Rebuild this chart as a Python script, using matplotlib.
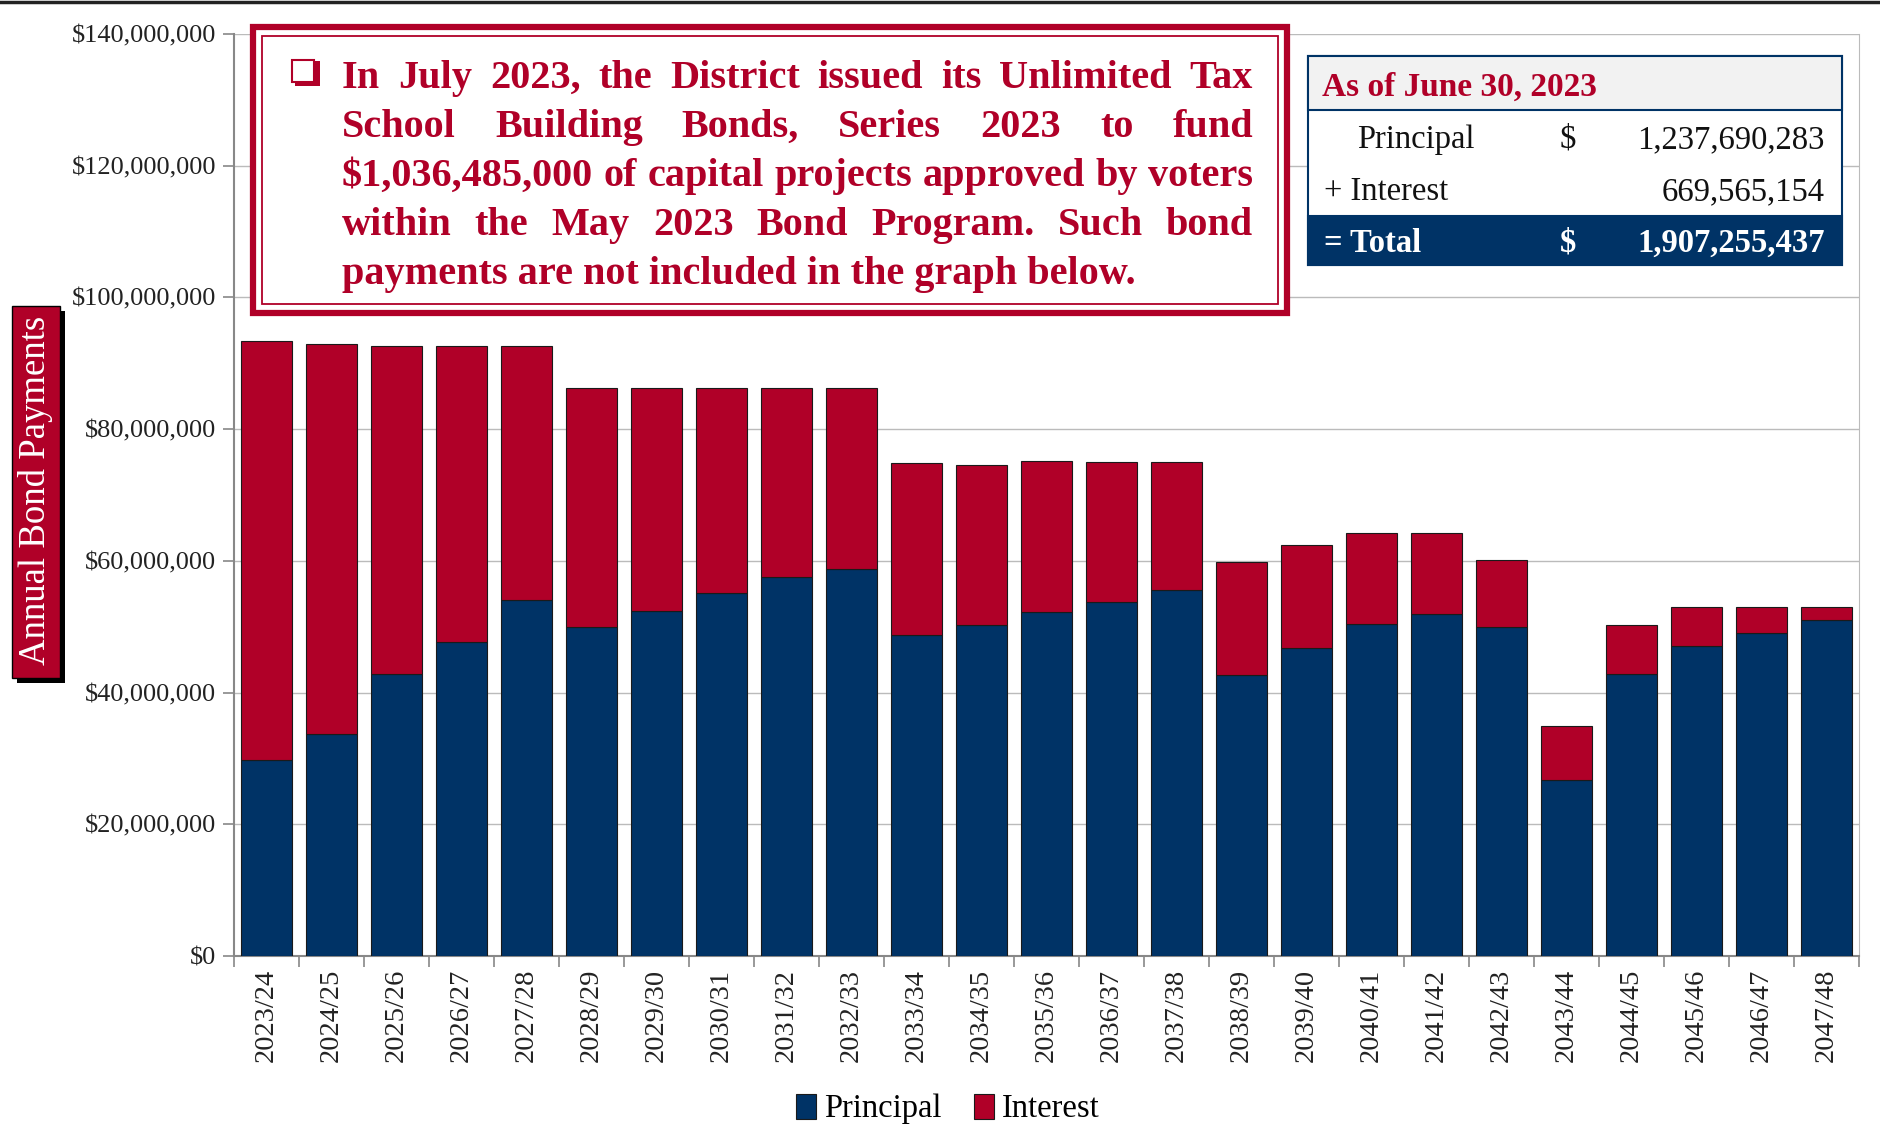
import matplotlib.pyplot as plt
from matplotlib.patches import Rectangle
from matplotlib.lines import Line2D
from matplotlib.ticker import FuncFormatter
import numpy as np

plt.rcParams['font.family'] = ['Liberation Serif', 'DejaVu Serif']

# fiscal years and annual payments (millions of dollars)
years = ['2023/24', '2024/25', '2025/26', '2026/27', '2027/28', '2028/29', '2029/30',
         '2030/31', '2031/32', '2032/33', '2033/34', '2034/35', '2035/36', '2036/37',
         '2037/38', '2038/39', '2039/40', '2040/41', '2041/42', '2042/43', '2043/44',
         '2044/45', '2045/46', '2046/47', '2047/48']
principal = [29.7, 33.7, 42.8, 47.7, 54.0, 50.0, 52.4, 55.1, 57.5, 58.8, 48.8, 50.2, 52.2,
             53.7, 55.5, 42.6, 46.8, 50.4, 52.0, 49.9, 26.8, 42.8, 47.1, 49.1, 51.0]
interest = [63.7, 59.3, 49.8, 44.9, 38.6, 36.3, 33.9, 31.2, 28.8, 27.5, 26.0, 24.4, 23.0,
            21.3, 19.5, 17.3, 15.6, 13.8, 12.2, 10.2, 8.1, 7.4, 5.9, 3.9, 2.0]

note_lines = ['In July 2023, the District issued its Unlimited Tax',
              'School Building Bonds, Series 2023 to fund',
              '$1,036,485,000 of capital projects approved by voters',
              'within the May 2023 Bond Program. Such bond',
              'payments are not included in the graph below.']

summary_title = 'As of June 30, 2023'
summary_rows = [('Principal', '$', '1,237,690,283'),
                ('+ Interest', '', '669,565,154'),
                ('= Total', '$', '1,907,255,437')]

NAVY = '#003366'
RED = '#B00028'

W, H = 1881, 1144
fig = plt.figure(figsize=(W / 100, H / 100), dpi=100)


def fx(px):
    return px / W


def fy(py):
    return 1 - py / H


ax = fig.add_axes([fx(234), fy(956), (1859 - 234) / W, (956 - 34) / H])

x = np.arange(len(years))
ax.bar(x, principal, 0.78, color=NAVY, edgecolor='#1a1a1a', linewidth=0.8,
       label='Principal', zorder=3)
ax.bar(x, interest, 0.78, bottom=principal, color=RED, edgecolor='#1a1a1a',
       linewidth=0.8, label='Interest', zorder=3)

ax.set_xlim(-0.5, len(years) - 0.5)
ax.set_ylim(0, 140)
ax.set_yticks(np.arange(0, 141, 20))
ax.yaxis.set_major_formatter(FuncFormatter(lambda v, p: '${:,.0f}'.format(v * 1e6)))
ax.set_xticks(x)
ax.set_xticklabels(years, rotation=90, fontsize=20.5, color='#222222')
ax.set_xticks(np.arange(-0.5, len(years)), minor=True)
ax.tick_params(axis='x', which='major', length=0, pad=9)
ax.tick_params(axis='x', which='minor', length=8, color='#888888', width=1.2)
ax.tick_params(axis='y', length=8, color='#888888', width=1.2, labelsize=19,
               labelcolor='#222222', pad=5)
ax.grid(axis='y', color='#BBBBBB', linewidth=1)
ax.set_axisbelow(True)
ax.spines['top'].set_visible(False)
ax.spines['left'].set_color('#888888')
ax.spines['left'].set_linewidth(1.5)
ax.spines['bottom'].set_color('#888888')
ax.spines['bottom'].set_linewidth(1.5)
ax.spines['right'].set_color('#BBBBBB')

fig.legend(loc='center', bbox_to_anchor=(fx(948), fy(1109)), ncol=2, frameon=False,
           fontsize=23.5, handlelength=0.6, handleheight=0.8, handletextpad=0.25,
           columnspacing=1.0)

# top rule
fig.add_artist(Line2D([0, 1], [fy(2), fy(2)], transform=fig.transFigure,
                      color='#222222', linewidth=2.5))

# y label box
fig.add_artist(Rectangle((fx(17), fy(683)), fx(48), (683 - 311) / H,
                         transform=fig.transFigure, facecolor='black', zorder=5))
fig.add_artist(Rectangle((fx(12), fy(678)), fx(48), (678 - 306) / H,
                         transform=fig.transFigure, facecolor=RED, edgecolor='black',
                         linewidth=1, zorder=6))
fig.text(fx(36), fy(490), 'Annual Bond Payments', rotation=90, color='white',
         fontsize=26.5, ha='center', va='center', zorder=7)

# note box
fig.add_artist(Rectangle((fx(253), fy(313)), fx(1287 - 253), (313 - 27) / H,
                         transform=fig.transFigure, facecolor='white', edgecolor=RED,
                         linewidth=4.5, zorder=5))
fig.add_artist(Rectangle((fx(262), fy(304)), fx(1278 - 262), (304 - 36) / H,
                         transform=fig.transFigure, facecolor='none', edgecolor=RED,
                         linewidth=1.3, zorder=6))
# check box bullet
fig.add_artist(Rectangle((fx(295), fy(86)), fx(25), 25 / H, transform=fig.transFigure,
                         facecolor=RED, zorder=6))
fig.add_artist(Rectangle((fx(292), fy(82)), fx(22), 22 / H, transform=fig.transFigure,
                         facecolor='white', edgecolor=RED, linewidth=1.5, zorder=7))

fig.canvas.draw()
renderer = fig.canvas.get_renderer()


def text_width(s, fs):
    t = fig.text(0, 0, s, fontsize=fs, fontweight='bold')
    w = t.get_window_extent(renderer).width
    t.remove()
    return w


left, right = 342, 1253
baselines = [88, 137, 186, 235, 284]
fs = 26
natural = max(text_width(l, fs) for l in note_lines[:4])
fs = fs * (right - left) / natural
for i, line in enumerate(note_lines):
    yb = fy(baselines[i])
    if i == len(note_lines) - 1:
        fig.text(fx(left), yb, line, fontsize=fs, fontweight='bold', color=RED,
                 va='baseline', zorder=8)
        continue
    words = line.split()
    widths = [text_width(w, fs) for w in words]
    gap = (right - left - sum(widths)) / (len(words) - 1)
    xp = left
    for w, ww in zip(words, widths):
        fig.text(fx(xp), yb, w, fontsize=fs, fontweight='bold', color=RED,
                 va='baseline', zorder=8)
        xp += ww + gap

# summary table
tx0, tx1, ty0, ty1 = 1308, 1842, 56, 265
fig.add_artist(Rectangle((fx(tx0), fy(ty1)), fx(tx1 - tx0), (ty1 - ty0) / H,
                         transform=fig.transFigure, facecolor='white', edgecolor=NAVY,
                         linewidth=1.5, zorder=5))
fig.add_artist(Rectangle((fx(tx0), fy(110)), fx(tx1 - tx0), (110 - ty0) / H,
                         transform=fig.transFigure, facecolor='#F2F2F2', edgecolor=NAVY,
                         linewidth=1.5, zorder=6))
fig.add_artist(Rectangle((fx(tx0), fy(ty1)), fx(tx1 - tx0), (ty1 - 216) / H,
                         transform=fig.transFigure, facecolor=NAVY, edgecolor=NAVY,
                         linewidth=1.5, zorder=6))
fig.text(fx(1322), fy(96), summary_title, fontsize=24, fontweight='bold', color=RED,
         va='baseline', zorder=8)
row_base = [148, 200, 252]
row_left = [1357, 1324, 1324]
for (lab, cur, val), yb, xl, k in zip(summary_rows, row_base, row_left, range(3)):
    is_total = k == 2
    col = 'white' if is_total else '#111111'
    wt = 'bold' if is_total else 'normal'
    fig.text(fx(xl), fy(yb), lab, fontsize=23.5, fontweight=wt, color=col,
             va='baseline', zorder=8)
    fig.text(fx(1568), fy(yb), cur, fontsize=23.5, fontweight=wt, color=col,
             va='baseline', ha='center', zorder=8)
    fig.text(fx(1825), fy(yb), val, fontsize=23.5, fontweight=wt, color=col,
             va='baseline', ha='right', zorder=8)

plt.savefig('out.png')
